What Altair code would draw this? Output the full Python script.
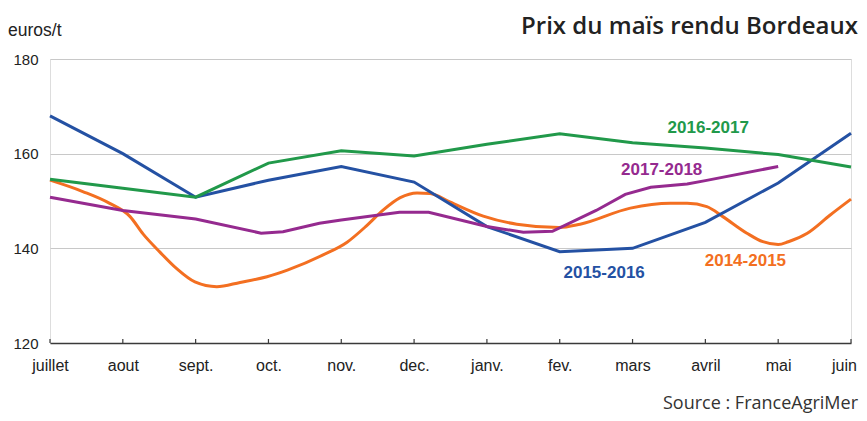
import altair as alt
import pandas as pd

months = ["juillet", "aout", "sept.", "oct.", "nov.", "dec.", "janv.", "fev.",
          "mars", "avril", "mai", "juin"]

series_names = ["2014-2015", "2015-2016", "2016-2017", "2017-2018"]
series_colors = ["#f36f21", "#2451a3", "#21994a", "#952a8f"]

# monthly series (x = month index)
x_1516 = [0, 1, 2, 3, 4, 5, 6, 7, 8, 9, 10, 11]
v_1516 = [168.0, 160.0, 150.8, 154.4, 157.3, 154.0, 144.6, 139.3, 140.0, 145.5, 153.8, 164.3]

x_1617 = [0, 1, 2, 3, 4, 5, 6, 7, 8, 9, 10, 11]
v_1617 = [154.6, 152.7, 150.8, 158.0, 160.6, 159.5, 162.0, 164.2, 162.3, 161.2, 159.8, 157.2]

x_1718 = [0, 1, 2, 2.9, 3.2, 3.7, 4, 4.8, 5.2, 6, 6.5, 6.9, 7.5, 7.9, 8.25, 8.75, 9, 10]
v_1718 = [150.8, 148.0, 146.2, 143.2, 143.5, 145.3, 146.0, 147.6, 147.6, 144.6, 143.4,
          143.6, 148.0, 151.4, 152.9, 153.6, 154.3, 157.3]

# weekly-ish series
x_1415 = [0, 0.45, 0.82, 1.10, 1.28, 1.51, 1.74, 1.99, 2.29, 2.61, 2.98, 3.26, 3.75,
          4.08, 4.35, 4.57, 4.81, 5.04, 5.22, 5.49, 5.95, 6.41, 6.99, 7.28, 7.97, 8.52,
          8.75, 9.02, 9.24, 9.57, 9.79, 10.0, 10.14, 10.40, 10.71, 11]
v_1415 = [154.4, 152.0, 149.5, 146.7, 143.0, 139.2, 135.7, 132.9, 131.9, 132.8, 134.0,
          135.4, 138.6, 141.3, 144.8, 148.0, 150.7, 151.7, 151.6, 149.8, 146.8, 145.1,
          144.4, 145.1, 148.5, 149.5, 149.5, 148.8, 146.7, 143.2, 141.4, 140.8, 141.4,
          143.2, 147.0, 150.4]

label_x = [9.55, 7.61, 9.04, 8.4]
label_y = [137.3, 134.8, 165.4, 156.5]

y_ticks = [120, 140, 160, 180]

rows = []
for name, xs, vs in [("2015-2016", x_1516, v_1516), ("2016-2017", x_1617, v_1617),
                     ("2017-2018", x_1718, v_1718)]:
    for xv, vv in zip(xs, vs):
        rows.append({"series": name, "x": xv, "value": vv})
df_lines = pd.DataFrame(rows)
df_orange = pd.DataFrame({"series": "2014-2015", "x": x_1415, "value": v_1415})
df_labels = pd.DataFrame({"series": series_names, "x": label_x, "value": label_y})
df_ticks = pd.DataFrame({"x": list(range(len(months)))})

label_expr = "[" + ",".join("'" + m + "'" for m in months) + "][datum.value]"

xscale = alt.Scale(domain=[0, 11], nice=False, zero=False)
yscale = alt.Scale(domain=[120, 180], nice=False, zero=False)
color = alt.Color("series:N", scale=alt.Scale(domain=series_names, range=series_colors),
                  legend=None)

x_enc = alt.X("x:Q", scale=xscale,
              axis=alt.Axis(values=list(range(12)), labelExpr=label_expr, title=None,
                            grid=False, ticks=False, domainColor="#3a3a3a", domainWidth=1.3,
                            labelFont="Liberation Sans", labelFontSize=16,
                            labelColor="#222222", labelPadding=14, labelAngle=0,
                            labelFlush=False, labelOverlap=False,
                            labelOffset={"condition": {"test": "datum.value == 11",
                                                       "value": -7}, "value": 0}))
y_enc = alt.Y("value:Q", scale=yscale,
              axis=alt.Axis(values=y_ticks, title=None, domain=False, ticks=False,
                            grid=True, gridColor="#c8c8c8", gridWidth=1,
                            labelFont="Liberation Sans", labelFontSize=15,
                            labelColor="#222222", labelPadding=12))

orange = alt.Chart(df_orange).mark_line(strokeWidth=3, interpolate="monotone").encode(
    x=x_enc, y=y_enc, color=color)

others = alt.Chart(df_lines).mark_line(strokeWidth=3).encode(
    x="x:Q", y="value:Q", color=color, detail="series:N",
    order=alt.Order("x:Q"))

ticks = alt.Chart(df_ticks).mark_rule(color="#3a3a3a", strokeWidth=1.2).encode(
    x="x:Q", y=alt.datum(120), y2=alt.datum(120.85))

labels = alt.Chart(df_labels).mark_text(font="Liberation Sans", fontSize=17,
                                        fontWeight="bold", align="center",
                                        baseline="middle").encode(
    x="x:Q", y="value:Q", text="series:N", color=color)

unit = alt.Chart(df_ticks.head(1)).mark_text(
    text="euros/t", font="Liberation Sans", fontSize=17.5, align="left",
    baseline="alphabetic", color="#222222").encode(x=alt.value(-42), y=alt.value(-23))

title = alt.Chart(df_ticks.head(1)).mark_text(
    text="Prix du maïs rendu Bordeaux", font="Open Sans", fontSize=24, fontWeight=600,
    align="right", baseline="alphabetic", color="#222222").encode(
    x=alt.value(808), y=alt.value(-25))

source = alt.Chart(df_ticks.head(1)).mark_text(
    text="Source : FranceAgriMer", font="Open Sans", fontSize=18, align="right",
    baseline="alphabetic", color="#333333").encode(x=alt.value(808), y=alt.value(350))

chart = alt.layer(orange, others, ticks, labels, unit, title, source).properties(
    width=801, height=284,
    autosize=alt.AutoSizeParams(type="none"),
    padding={"left": 42, "top": 51, "right": 8, "bottom": 70},
).configure_view(stroke=None).configure(background="white")

chart.save("out.html", embed_options={"renderer": "svg", "actions": False})
